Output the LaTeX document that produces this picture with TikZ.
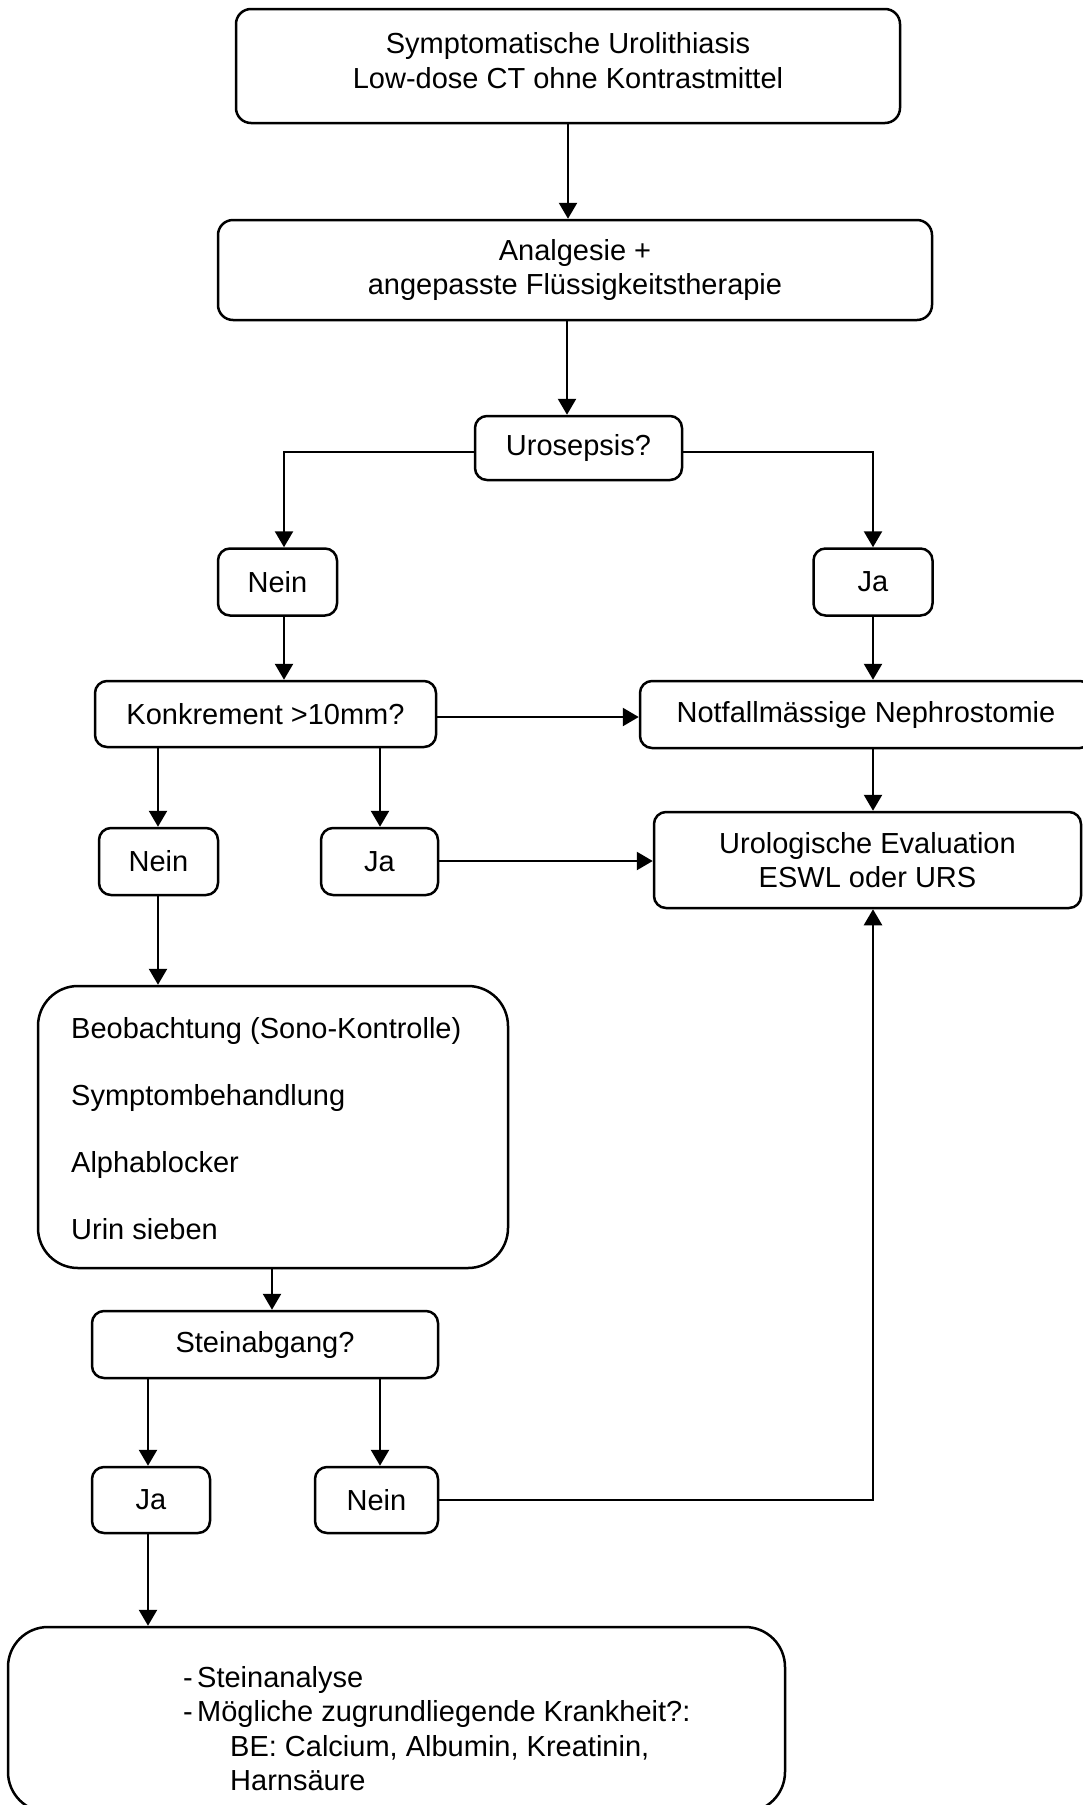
\documentclass[tikz,border=0pt]{standalone}
\usepackage{fontspec}
\setmainfont{Liberation Sans}
\usetikzlibrary{arrows.meta}
\newcommand{\fsz}{\fontsize{29}{34}\selectfont}
\tikzset{
  box/.style={draw, line width=2.5pt, rounded corners=12pt, inner sep=0pt, align=center, font=\fsz},
  bigbox/.style={box, rounded corners=40pt},
  txt/.style={inner sep=0pt, font=\fsz, align=left},
  arr/.style={line width=2.5pt, -{Triangle[length=16pt,width=18pt]}}
}
\begin{document}
\begin{tikzpicture}[x=1pt,y=-1pt]
\useasboundingbox (0,0) rectangle (1083,1805);
\clip (0,0) rectangle (1083,1805);
\fill[white] (0,0) rectangle (1083,1805);

% nodes
\node[box, rounded corners=15pt, minimum width=664pt, minimum height=114pt] (top) at (568,66) {};
\node[txt, align=center, font=\fontsize{29}{35}\selectfont] (toptxt) at (568,61)
  {Symptomatische Urolithiasis\\Low-dose CT ohne Kontrastmittel};
\node[box, rounded corners=15pt, minimum width=714pt, minimum height=100pt] (an) at (575,270)
  {Analgesie +\\angepasste Flüssigkeitstherapie};
\node[box, minimum width=207pt, minimum height=64pt] (uro) at (578.5,448) {Urosepsis?};
\node[box, minimum width=119pt, minimum height=67pt] (nein1) at (277.5,582) {Nein};
\node[box, minimum width=119pt, minimum height=67pt] (ja1) at (873,582) {Ja};
\node[box, minimum width=341pt, minimum height=66pt] (konk) at (265.5,714) {Konkrement >10mm?};
\node[box, minimum width=452pt, minimum height=67pt] (notf) at (866,714.5) {Notfallmässige Nephrostomie};
\node[box, minimum width=119pt, minimum height=67pt] (nein2) at (158.5,861.5) {Nein};
\node[box, minimum width=117pt, minimum height=67pt] (ja2) at (379.5,861.5) {Ja};
\node[box, minimum width=427pt, minimum height=96pt] (uro2) at (867.5,860)
  {Urologische Evaluation\\ESWL oder URS};
\node[bigbox, minimum width=470pt, minimum height=282pt] (beob) at (273,1127) {};
\node[txt, anchor=west, font=\fontsize{29}{67}\selectfont] (beobtxt) at (71,1129)
  {Beobachtung (Sono-Kontrolle)\\Symptombehandlung\\Alphablocker\\Urin sieben};
\node[box, minimum width=346pt, minimum height=67pt] (stein) at (265,1344.5) {Steinabgang?};
\node[box, minimum width=118pt, minimum height=66pt] (ja3) at (151,1500) {Ja};
\node[box, minimum width=123pt, minimum height=66pt] (nein3) at (376.5,1500) {Nein};
\node[bigbox, minimum width=777pt, minimum height=185pt] (bot) at (396.5,1719.5) {};
\node[txt, anchor=north west, font=\fontsize{29}{34.5}\selectfont] (bottxt) at (183,1666)
  {\makebox[14pt][l]{-}Steinanalyse\\
   \makebox[14pt][l]{-}Mögliche zugrundliegende Krankheit?:\\
   \hspace*{47pt}BE: Calcium, Albumin, Kreatinin,\\
   \hspace*{47pt}Harnsäure};

% connectors
\draw[arr] (top.south) -- (top.south |- an.north);
\draw[arr] (567,0 |- an.south) -- (567,0 |- uro.north);
\draw[arr] (uro.west |- 0,452) -| (284,0 |- nein1.north);
\draw[arr] (uro.east |- 0,452) -| (873,0 |- ja1.north);
\draw[arr] (873,0 |- ja1.south) -- (873,0 |- notf.north);
\draw[arr] (284,0 |- nein1.south) -- (284,0 |- konk.north);
\draw[arr] (konk.east |- 0,717) -- (notf.west |- 0,717);
\draw[arr] (873,0 |- notf.south) -- (873,0 |- uro2.north);
\draw[arr] (158,0 |- konk.south) -- (158,0 |- nein2.north);
\draw[arr] (380,0 |- konk.south) -- (380,0 |- ja2.north);
\draw[arr] (ja2.east |- 0,861) -- (uro2.west |- 0,861);
\draw[arr] (158,0 |- nein2.south) -- (158,0 |- beob.north);
\draw[arr] (272,0 |- beob.south) -- (272,0 |- stein.north);
\draw[arr] (148,0 |- stein.south) -- (148,0 |- ja3.north);
\draw[arr] (380,0 |- stein.south) -- (380,0 |- nein3.north);
\draw[arr] (nein3.east |- 0,1500) -| (873,0 |- uro2.south);
\draw[arr] (148,0 |- ja3.south) -- (148,0 |- bot.north);
\end{tikzpicture}
\end{document}
